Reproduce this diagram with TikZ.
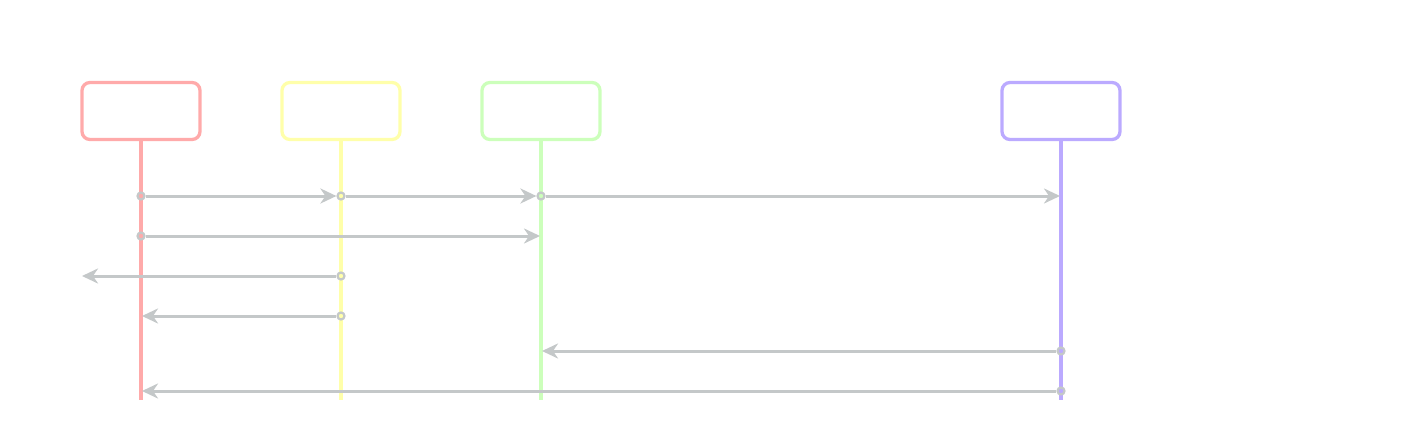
\documentclass[tikz,border=0pt]{standalone}
\usepackage{amssymb}
\usepackage{amsmath}
\usetikzlibrary{arrows.meta}

\definecolor{lred}{HTML}{FFAAAA}
\definecolor{lyellow}{HTML}{FFFFAA}
\definecolor{lgreen}{HTML}{CCFFBB}
\definecolor{lpurple}{HTML}{BBAAFF}
\definecolor{msggray}{HTML}{C4C8C9}

\tikzset{
    actor/.style={draw, rounded corners=8pt, line width=3.3pt, minimum width=118pt, minimum height=57pt, inner sep=0pt},
    life/.style={line width=3.3pt},
    msg/.style={draw=msggray, line width=3pt, -{Stealth[length=16pt, width=15pt, inset=5pt]}},
    dot/.style={circle, draw=msggray, line width=2.2pt, minimum size=7pt, inner sep=0pt}
}

\begin{document}
\begin{tikzpicture}[x=1pt, y=-1pt]
    \useasboundingbox (0, 0) rectangle (1403, 442);
    % actors
    \node[actor, draw=lred] (client) at (141, 111) {};
    \node[actor, draw=lyellow] (cache) at (341, 111) {};
    \node[actor, draw=lgreen] (server) at (541, 111) {};
    \node[actor, draw=lpurple] (store) at (1061, 111) {};
    \coordinate (clientend) at (141, 400);
    \coordinate (cacheend) at (341, 400);
    \coordinate (serverend) at (541, 400);
    \coordinate (storeend) at (1061, 400);
    \draw[life, draw=lred] (client.south) -- (clientend);
    \draw[life, draw=lyellow] (cache.south) -- (cacheend);
    \draw[life, draw=lgreen] (server.south) -- (serverend);
    \draw[life, draw=lpurple] (store.south) -- (storeend);

    % message ends
    \node[dot] (s1) at (141, 196) {};
    \node[dot] (s2) at (341, 196) {};
    \node[dot] (s3) at (541, 196) {};
    \coordinate (t3) at (1060, 196);
    \node[dot] (s4) at (141, 236) {};
    \coordinate (t4) at (540, 236);
    \node[dot] (s5) at (341, 276) {};
    \coordinate (t5) at (82, 276);
    \node[dot] (s6) at (341, 316) {};
    \coordinate (t6) at (142, 316);
    \node[dot] (s7) at (1061, 351) {};
    \coordinate (t7) at (542, 351);
    \node[dot] (s8) at (1061, 391) {};
    \coordinate (t8) at (142, 391);

    % messages
    \draw[msg] (s1) -- (s2);
    \draw[msg] (s2) -- (s3);
    \draw[msg] (s3) -- (t3);
    \draw[msg] (s4) -- (t4);
    \draw[msg] (s5) -- (t5);
    \draw[msg] (s6) -- (t6);
    \draw[msg] (s7) -- (t7);
    \draw[msg] (s8) -- (t8);
\end{tikzpicture}
\end{document}
